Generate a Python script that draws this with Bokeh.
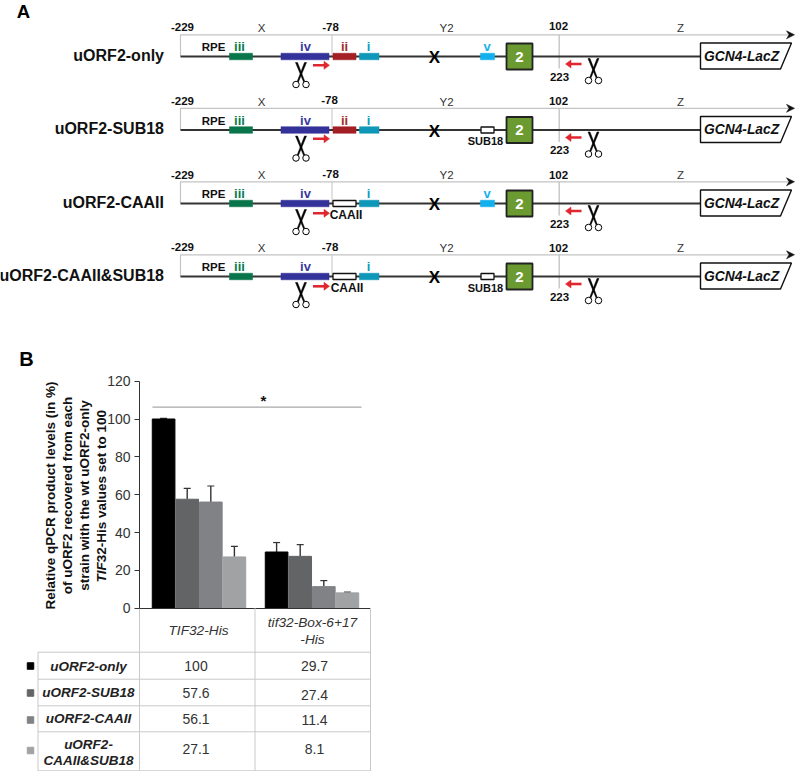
from bokeh.plotting import figure
from bokeh.embed import file_html
from bokeh.resources import INLINE
from bokeh.models import Range1d, LinearAxis, ColumnDataSource, Whisker, TeeHead, FixedTicker
from bokeh.core.properties import value
import math

# ---------- data ----------
strains = ["TIF32-His", "tif32-Box-6+17-His"]
constructs = ["uORF2-only", "uORF2-SUB18", "uORF2-CAAII", "uORF2-CAAII&SUB18"]
wt_values = [100, 57.6, 56.1, 27.1]
mut_values = [29.7, 27.4, 11.4, 8.1]
wt_err_top = [100.3, 63.3, 64.6, 32.7]
mut_err_top = [34.7, 33.6, 14.6, 8.5]
y_ticks = [0, 20, 40, 60, 80, 100, 120]
bar_colors = ["#000000", "#636466", "#808285", "#a0a2a4"]

# ---------- canvas (reference pixels) ----------
W, H = 795, 771
FONT = "Liberation Sans"
Y0, PX_PER_UNIT = 607.7, 1.892
G0, GROUP_PX = 198.5, 113.0
BAR_UNITS = 23.6 / GROUP_PX

p = figure(width=W, height=H, x_range=Range1d(0, W), y_range=Range1d(H, 0),
           x_axis_location=None, y_axis_location=None, toolbar_location=None,
           output_backend="svg", min_border=0, outline_line_color=None,
           background_fill_color="white", border_fill_color="white")
p.grid.visible = False
p.extra_y_ranges["bars"] = Range1d((Y0 - H) / PX_PER_UNIT, Y0 / PX_PER_UNIT)
p.extra_x_ranges["groups"] = Range1d(-G0 / GROUP_PX, (W - G0) / GROUP_PX)


def txt(x, y, s, size=11, bold=False, italic=False, color="#111111", align="center", angle=0):
    style = "bold italic" if bold and italic else "bold" if bold else "italic" if italic else "normal"
    p.text([x], [y], text=[s], text_font=value(FONT), text_font_size=f"{size}px",
           text_font_style=style, text_color=color, text_align=align,
           text_baseline="middle", angle=angle)


def scissors(cx, top):
    bx = [[cx - 5.5, cx - 3.5, cx + 3.8, cx + 2.6], [cx + 5.5, cx + 3.5, cx - 3.8, cx - 2.6]]
    by = [[top, top, top + 19, top + 19.5]] * 2
    p.patches(bx, by, fill_color="black", line_color="black", line_width=0.5)
    p.scatter([cx - 5, cx + 5], [top + 22, top + 22], size=6.5, marker="circle",
              fill_color="white", line_color="black", line_width=1)


def block(x0, x1, yc, color, h=6.5):
    p.quad(left=[x0], right=[x1], top=[yc - h / 2], bottom=[yc + h / 2],
           fill_color=color, line_color=color, line_alpha=0.55, line_width=1)


def hollow(x0, x1, yc, h=6):
    p.quad(left=[x0], right=[x1], top=[yc - h / 2], bottom=[yc + h / 2],
           fill_color="white", line_color="#111111", line_width=1.3)


def red_arrow(x0, x1, y):
    d = 1 if x1 > x0 else -1
    p.line([x0, x1 - d * 3], [y, y], line_color="#e0262e", line_width=2.6)
    p.patch([x1 - d * 5.5, x1, x1 - d * 5.5], [y - 4, y, y + 4], fill_color="#e0262e", line_color="#e0262e", line_width=0.5)


rows = [
    dict(name="uORF2-only", base=56, ii=True, sub=False, lab=[26, 27, 26, 25], x78=330),
    dict(name="uORF2-SUB18", base=129.5, ii=True, sub=True, lab=[100, 101, 99.5, 100], x78=329),
    dict(name="uORF2-CAAII", base=203, ii=False, sub=False, lab=[174, 174.5, 173.5, 174], x78=330),
    dict(name="uORF2-CAAII&SUB18", base=276, ii=False, sub=True, lab=[246, 247, 246, 247], x78=329.5),
]

txt(23, 10.5, "A", size=18.5, bold=True, color="black")
txt(26, 358, "B", size=20, bold=True, color="black")

for i, r in enumerate(rows):
    b = r["base"]
    top = b - 21.7
    # frame lines
    p.line([180, 180, 788], [b, top, top], line_color="#c4c4c4", line_width=1.2)
    p.line([331.5, 331.5], [top, b], line_color="#c4c4c4", line_width=1)
    p.line([558.7, 558.7], [top, b + 12], line_color="#c4c4c4", line_width=1.4)
    p.patch([786, 794, 786, 788.5], [top - 4, top, top + 4, top], fill_color="#111111", line_color="#111111", line_width=0.5)
    # main line
    p.line([180, 700], [b, b], line_color="#333333", line_width=1.8)
    # position labels
    txt(182, r["lab"][0], "-229", 11.5, True)
    txt(261, r["lab"][1], "X", 11.5, color="#333333")
    txt(r["x78"], r["lab"][2], "-78", 11.5, True)
    txt(446, r["lab"][1], "Y2", 11.5, color="#333333")
    txt(558, r["lab"][3], "102", 11.5, True)
    txt(680, r["lab"][1], "Z", 11.5, color="#333333")
    # name
    txt(163.5, b - 1.5, r["name"], 16, True, color="#111111", align="right")
    txt(213, b - 9.5, "RPE", 11.5, True)
    # uORFs
    block(229, 252, b, "#08754a")
    txt(239, b - 10, "iii", 13, True, color="#0a7a4c")
    block(280.5, 328.5, b, "#33329a")
    txt(305, b - 10, "iv", 13, True, color="#3a3a9e")
    if r["ii"]:
        block(332.5, 355.5, b, "#a31f24")
        txt(344, b - 10, "ii", 13, True, color="#a52a2a")
    else:
        hollow(332.5, 355.5, b)
    block(359, 378.5, b, "#0e97b8")
    txt(368, b - 10, "i", 13, True, color="#1199bd")
    # X
    txt(434, b + 1, "X", 17, True, color="black")
    if r["sub"]:
        hollow(480.5, 493.5, b)
        txt(485, b + 11, "SUB18", 11, True)
    else:
        block(480, 494, b, "#12b0ec")
        txt(486.7, b - 10, "v", 13, True, color="#18b2ea")
    # box 2
    p.quad(left=[506], right=[532], top=[b - 13], bottom=[b + 13], fill_color="#6b9a30",
           line_color="#222222", line_width=1.8)
    txt(519, b, "2", 15, True, color="white")
    # reporter
    p.patch([700, 791, 780, 700], [b - 13.5, b - 13.5, b + 12.5, b + 12.5], fill_color="white",
            line_color="#111111", line_width=1.4)
    txt(703.5, b - 0.5, "GCN4-LacZ", 13.8, True, True, align="left")
    # primers
    ra = 8.8 if i < 2 else 9.8
    red_arrow(312.5, 329, b + ra)
    if not r["ii"]:
        txt(345.5 + (1 if i == 3 else 0), b + 11.5, "CAAII", 12, True)
    red_arrow(581, 565, b + 7.5)
    txt(559, b + 20, "223", 11.5, True)
    scissors(300.5, b + 6)
    scissors(593, b + 2)

# ---------- bar chart ----------
vals = wt_values + mut_values
tops = wt_err_top + mut_err_top
xs = [g + (j - 1.5) * BAR_UNITS for g in range(2) for j in range(4)]
src = ColumnDataSource(dict(x=xs, top=vals, err=tops, color=bar_colors * 2))
p.vbar(x="x", top="top", bottom=0, width=BAR_UNITS * 0.96, color="color", source=src,
       x_range_name="groups", y_range_name="bars")
p.add_layout(Whisker(base="x", upper="err", lower="top", source=src, dimension="height",
                     upper_head=TeeHead(size=7, line_color="#333333", line_width=1.2), lower_head=None,
                     line_color="#333333", line_width=1.4,
                     x_range_name="groups", y_range_name="bars"))

axis = LinearAxis(y_range_name="bars", ticker=FixedTicker(ticks=y_ticks), bounds=(0, 120),
                  fixed_location=139, major_label_text_font=FONT, major_label_text_font_size="14px",
                  major_label_text_color="#333333", axis_line_color="#333333",
                  major_tick_line_color="#333333", major_tick_in=0, major_tick_out=5,
                  minor_tick_line_color=None, major_label_standoff=4)
p.add_layout(axis, "left")

p.line([139, 370], [Y0 + 0.3, Y0 + 0.3], line_color="#333333", line_width=1.2)
p.line([152, 361], [406.7, 406.7], line_color="#a8a8a8", line_width=1.2)
txt(263, 400, "*", 15, True, color="#111111")

ylab = ["Relative qPCR product levels (in %)", "of uORF2 recovered from each",
        "strain with the wt uORF2-only"]
for x, s in zip([50, 67, 84], ylab):
    txt(x, 495, s, 13.5, True, angle=math.pi / 2)
txt(101, 582, "TIF", 13.5, True, True, align="left", angle=math.pi / 2)
txt(101, 561.8, "32-His values set to 100", 13.5, True, align="left", angle=math.pi / 2)

# ---------- table ----------
GRID = "#c9c9c9"
for x, y0 in [(139, Y0), (254.5, Y0), (370, Y0), (37.5, 651.7)]:
    p.line([x, x], [y0, 770.7], line_color=GRID, line_width=1)
for y in [651.7, 678.7, 705.3, 731.3, 770.3]:
    p.line([37.5, 370], [y, y], line_color=GRID, line_width=1)

txt(198, 630, strains[0], 13.7, italic=True, color="#333333")
txt(312, 622, "tif32-Box-6+17", 13.7, italic=True, color="#333333")
txt(312, 639, "-His", 13.7, italic=True, color="#333333")

label_y = [665.5, 692, 718]
for y, s in zip(label_y, constructs[:3]):
    txt(88, y, s, 13.5, True, True, color="#222222")
txt(88, 744, "uORF2-", 13.5, True, True, color="#222222")
txt(88, 760, "CAAII&SUB18", 13.5, True, True, color="#222222")

wt_y = [665.5, 692, 718, 748]
mut_y = [665.5, 694, 719, 748]
for y, v in zip(wt_y, wt_values):
    txt(195.5, y, str(v), 14, color="#333333")
for y, v in zip(mut_y, mut_values):
    txt(314, y, str(v), 14, color="#333333")
p.scatter([30] * 4, [665.5, 692.5, 719.5, 750], size=6.5, marker="square", color=bar_colors)

open("out.html", "w").write(file_html(p, INLINE))
